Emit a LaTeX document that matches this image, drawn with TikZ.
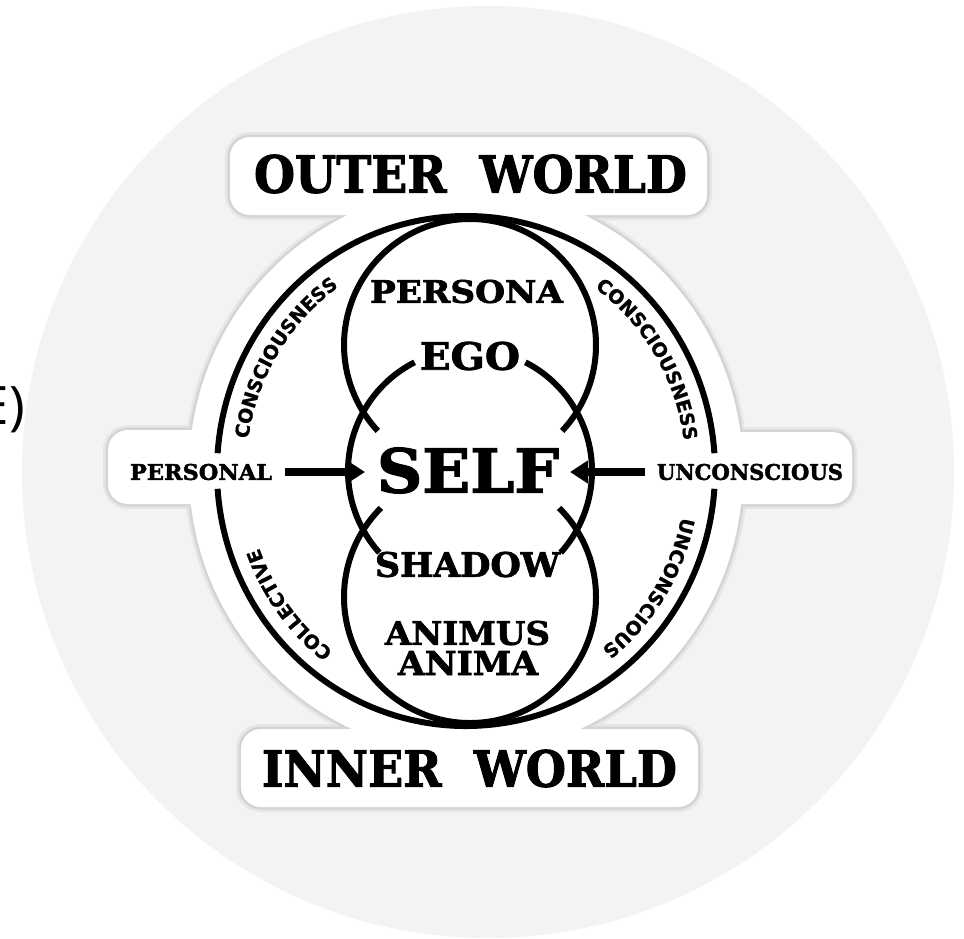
\documentclass[tikz,border=0pt]{standalone}
\usepackage{fontspec}
\usepackage{graphicx}
\setmainfont{DejaVu Serif}[BoldFeatures={FakeBold=2}]
\newfontfamily\curvefont{DejaVu Sans}[BoldFeatures={FakeBold=1}]
\newfontfamily\sidefont{Open Sans}
\usetikzlibrary{arrows.meta,decorations.text}
\definecolor{bggray}{HTML}{F3F3F3}
\definecolor{shadowgray}{HTML}{D4D4D4}
\definecolor{shadowsoft}{HTML}{E6E6E6}
\newcommand{\lbl}[3]{\resizebox{#1pt}{#2pt}{\bfseries #3}}
\newcommand{\curvestyle}{\curvefont\bfseries\fontsize{19pt}{19pt}\selectfont}
\begin{document}
\begin{tikzpicture}[x=1pt,y=1pt,
  lab/.style={inner sep=0pt, outer sep=0pt, text=black},
  ln/.style={line width=6pt, black},
  arr/.style={line width=7.5pt, black, -{Triangle[length=18pt,width=22pt]}},
  shadowwide/.style={draw=shadowsoft, line width=10pt},
  shadowline/.style={draw=shadowgray, line width=5pt},
  stickerfill/.style={fill=white},
  curve/.style={decorate, decoration={text along path, text align=center, text={|\curvestyle|#1}}}]
\useasboundingbox (0,0) rectangle (964,-938);
\fill[white] (0,0) rectangle (964,-938);
\fill[bggray] (488,-472) circle[radius=466pt];

% sticker shadow (soft)
\path[shadowwide] (466,-471) ellipse[x radius=277pt, y radius=283pt];
\path[shadowwide, rounded corners=20pt] (230,-137) rectangle (707,-215);
\path[shadowwide, rounded corners=20pt] (241,-729) rectangle (698,-807);
\path[shadowwide, rounded corners=20pt] (108,-430) rectangle (300,-504);
\path[shadowwide, rounded corners=20pt] (640,-432) rectangle (852,-504);
% sticker shadow (edge)
\path[shadowline] (466,-471) ellipse[x radius=277pt, y radius=283pt];
\path[shadowline, rounded corners=20pt] (230,-137) rectangle (707,-215);
\path[shadowline, rounded corners=20pt] (241,-729) rectangle (698,-807);
\path[shadowline, rounded corners=20pt] (108,-430) rectangle (300,-504);
\path[shadowline, rounded corners=20pt] (640,-432) rectangle (852,-504);
% sticker body
\path[stickerfill] (466,-471) ellipse[x radius=277pt, y radius=283pt];
\path[stickerfill, rounded corners=20pt] (230,-137) rectangle (707,-215);
\path[stickerfill, rounded corners=20pt] (241,-729) rectangle (698,-807);
\path[stickerfill, rounded corners=20pt] (108,-430) rectangle (300,-504);
\path[stickerfill, rounded corners=20pt] (640,-432) rectangle (852,-504);

% outer ellipse and its curved texts
\begin{scope}[shift={(466,-471)}]
  \draw[ln] (4:249pt and 255pt) arc[start angle=4, end angle=176, x radius=249pt, y radius=255pt];
  \draw[ln] (184:249pt and 255pt) arc[start angle=184, end angle=356, x radius=249pt, y radius=255pt];
  \path[curve=CONSCIOUSNESS] (180:220pt and 226pt) arc[start angle=180, end angle=117, x radius=220pt, y radius=226pt];
  \path[curve=CONSCIOUSNESS] (62:220pt and 226pt) arc[start angle=62, end angle=0, x radius=220pt, y radius=226pt];
  \path[curve=COLLECTIVE] (248:220pt and 226pt) arc[start angle=248, end angle=185, x radius=220pt, y radius=226pt];
  \path[curve=UNCONSCIOUS] (0:220pt and 226pt) arc[start angle=0, end angle=-64, x radius=220pt, y radius=226pt];
\end{scope}

% inner circles
\begin{scope}[shift={(470,-345)}]
  \draw[ln] (-43:126pt) arc[start angle=-43, end angle=223, radius=126pt];
\end{scope}
\begin{scope}[shift={(470,-471)}]
  \draw[ln] (117:122pt) arc[start angle=117, end angle=222, radius=122pt];
  \draw[ln] (-42:122pt) arc[start angle=-42, end angle=63, radius=122pt];
\end{scope}
\begin{scope}[shift={(470,-597)}]
  \draw[ln] (135:126pt) arc[start angle=135, end angle=405, radius=126pt];
\end{scope}

% labels
\node[lab] (outer) at (470.5,-174) {\lbl{433}{38}{OUTER\hspace{0.7em}WORLD}};
\node[lab] (inner) at (469.5,-768.5) {\lbl{415}{37}{INNER\hspace{0.7em}WORLD}};
\node[lab] (persona) at (466.5,-291.5) {\lbl{193}{23}{PERSONA}};
\node[lab] (ego) at (470,-356) {\lbl{100}{28}{EGO}};
\node[lab] (self) at (468,-470.5) {\lbl{182}{45}{SELF}};
\node[lab] (shadow) at (467.5,-564.5) {\lbl{185}{25}{SHADOW}};
\node[lab] (animus) at (467.5,-633) {\lbl{165}{24}{ANIMUS}};
\node[lab] (anima) at (468,-663) {\lbl{140}{24}{ANIMA}};
\node[lab] (personal) at (201,-472) {\lbl{142}{16}{PERSONAL}};
\node[lab] (unconscious) at (750,-472) {\lbl{186}{16}{UNCONSCIOUS}};
\node[lab, anchor=base east, font=\sidefont\fontsize{53pt}{53pt}\selectfont] (edge) at (25,-424) {E)};

% arrows
\draw[arr, shorten <=13pt, shorten >=12pt] (personal.east) -- (personal.east -| self.west);
\draw[arr, shorten <=12pt, shorten >=11pt] (unconscious.west) -- (unconscious.west -| self.east);
\end{tikzpicture}
\end{document}
